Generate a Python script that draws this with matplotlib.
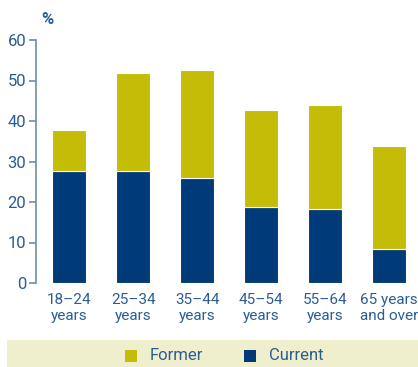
import matplotlib
matplotlib.use("Agg")
import matplotlib.pyplot as plt
from matplotlib.patches import Rectangle

plt.rcParams['font.family'] = ['Roboto', 'DejaVu Sans']

categories = ["18–24\nyears", "25–34\nyears", "35–44\nyears",
              "45–54\nyears", "55–64\nyears", "65 years\nand over"]
current = [27.6, 27.6, 25.9, 18.8, 18.3, 8.4]
former_total = [37.8, 51.9, 52.6, 42.7, 43.9, 33.8]
former = [t - c for t, c in zip(former_total, current)]
yticks = [0, 10, 20, 30, 40, 50, 60]

c_former = "#c4bc06"
c_current = "#003a78"
c_axis = "#6d8db0"
c_text = "#2b5d94"

W, H = 418, 367
fig = plt.figure(figsize=(W / 100, H / 100), dpi=100)
ax = fig.add_axes([36 / W, (H - 283) / H, 382 / W, 243 / H])

x = range(len(categories))
ax.bar(x, current, width=0.53, color=c_current, edgecolor="white", linewidth=0.8)
ax.bar(x, former, bottom=current, width=0.53, color=c_former, edgecolor="white", linewidth=0.8)

ax.set_xlim(-0.516, 5.45)
ax.set_ylim(0, 60)
ax.set_yticks(yticks)
ax.set_xticks(list(x))
ax.set_xticklabels(categories, linespacing=1.25)
for s in ["top", "right", "bottom"]:
    ax.spines[s].set_visible(False)
ax.spines["left"].set_color(c_axis)
ax.spines["left"].set_linewidth(1.2)
ax.tick_params(axis="y", colors=c_axis, labelcolor=c_text, labelsize=12, length=5, width=1.2, pad=2)
ax.tick_params(axis="x", length=0, labelcolor=c_text, labelsize=11, pad=7)

fig.text(47 / W, 1 - 19 / H, "%", color=c_text, fontsize=12, fontweight="bold",
         ha="center", va="center")

# legend band
band = Rectangle((7 / W, 0), 1 - 7 / W, (H - 340) / H, transform=fig.transFigure,
                 facecolor="#f0efcd", edgecolor="none")
fig.patches.append(band)
ly = 1 - 356 / H
fig.patches.append(Rectangle((125 / W, ly - 6 / H), 12 / W, 12 / H, transform=fig.transFigure,
                             facecolor=c_former, edgecolor="none"))
fig.text(150 / W, ly, "Former", color=c_text, fontsize=12, va="center", ha="left")
fig.patches.append(Rectangle((244 / W, ly - 6 / H), 12 / W, 12 / H, transform=fig.transFigure,
                             facecolor=c_current, edgecolor="none"))
fig.text(269 / W, ly, "Current", color=c_text, fontsize=12, va="center", ha="left")

fig.savefig("out.png", dpi=100)
